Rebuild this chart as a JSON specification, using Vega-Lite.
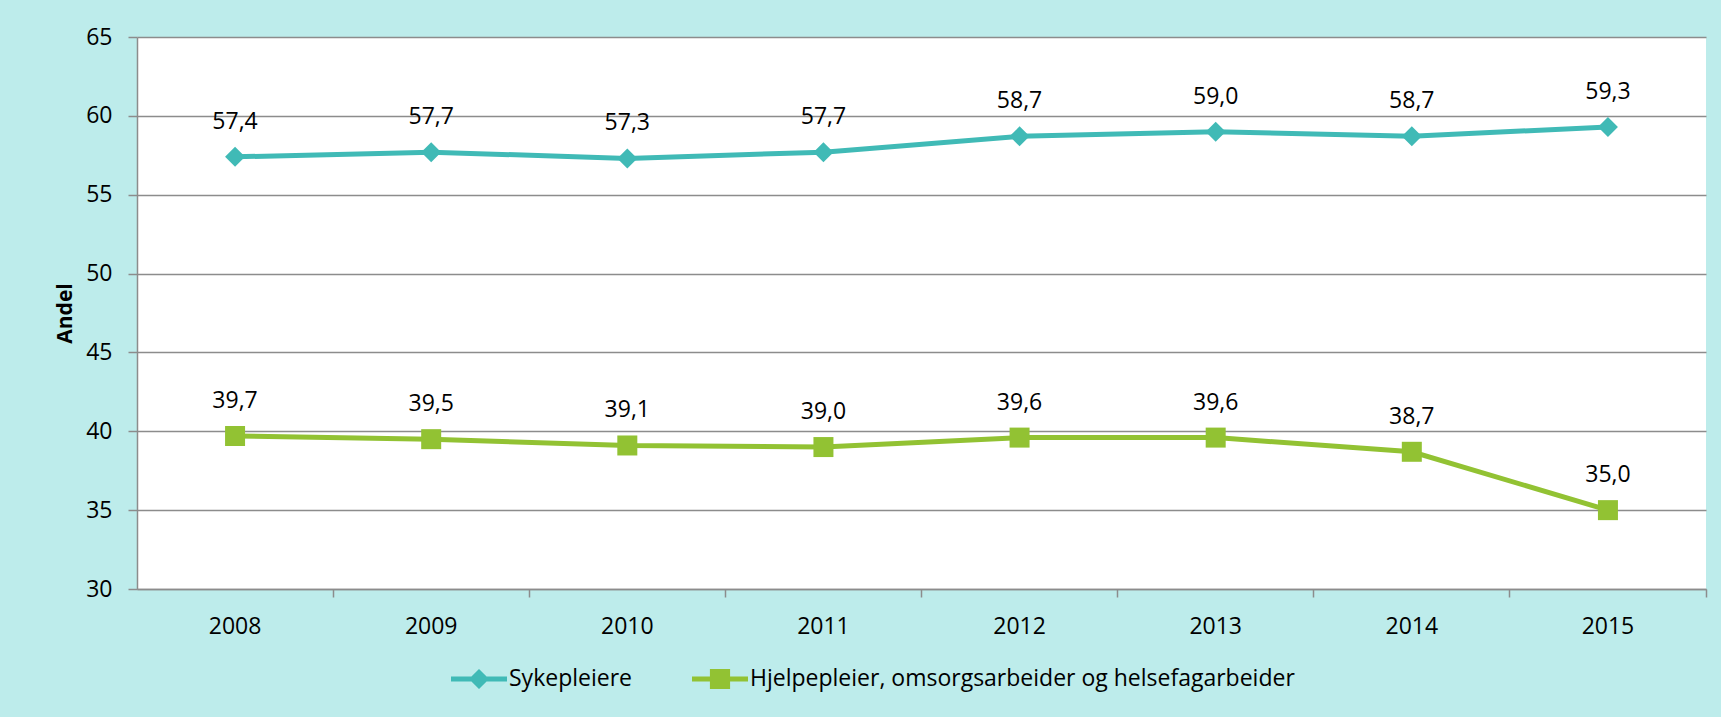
{
  "$schema": "https://vega.github.io/schema/vega-lite/v6.json",
  "width": 1569,
  "height": 552,
  "autosize": {"type": "none"},
  "padding": {"left": 137, "top": 37, "right": 15, "bottom": 128},
  "background": "#bdeceb",
  "config": {
    "view": {"fill": "white", "stroke": null},
    "font": "Open Sans",
    "locale": {"number": {"decimal": ",", "thousands": " ", "grouping": [3], "currency": ["", " kr"]}}
  },
  "data": {
    "values": [
      {"year": "2008", "series": "Sykepleiere", "value": 57.4},
      {"year": "2009", "series": "Sykepleiere", "value": 57.7},
      {"year": "2010", "series": "Sykepleiere", "value": 57.3},
      {"year": "2011", "series": "Sykepleiere", "value": 57.7},
      {"year": "2012", "series": "Sykepleiere", "value": 58.7},
      {"year": "2013", "series": "Sykepleiere", "value": 59.0},
      {"year": "2014", "series": "Sykepleiere", "value": 58.7},
      {"year": "2015", "series": "Sykepleiere", "value": 59.3},
      {"year": "2008", "series": "Hjelpepleier, omsorgsarbeider og helsefagarbeider", "value": 39.7},
      {"year": "2009", "series": "Hjelpepleier, omsorgsarbeider og helsefagarbeider", "value": 39.5},
      {"year": "2010", "series": "Hjelpepleier, omsorgsarbeider og helsefagarbeider", "value": 39.1},
      {"year": "2011", "series": "Hjelpepleier, omsorgsarbeider og helsefagarbeider", "value": 39.0},
      {"year": "2012", "series": "Hjelpepleier, omsorgsarbeider og helsefagarbeider", "value": 39.6},
      {"year": "2013", "series": "Hjelpepleier, omsorgsarbeider og helsefagarbeider", "value": 39.6},
      {"year": "2014", "series": "Hjelpepleier, omsorgsarbeider og helsefagarbeider", "value": 38.7},
      {"year": "2015", "series": "Hjelpepleier, omsorgsarbeider og helsefagarbeider", "value": 35.0}
    ]
  },
  "resolve": {"axis": {"x": "independent"}},
  "layer": [
    {
      "mark": {"type": "line", "strokeWidth": 5},
      "encoding": {
        "x": {
          "field": "year", "type": "ordinal", "bandPosition": 0.5,
          "scale": {"type": "band", "paddingInner": 0, "paddingOuter": 0},
          "axis": {
            "orient": "bottom", "title": null, "labelAngle": 0, "bandPosition": 0.5, "ticks": false, "tickSize": 0,
            "labelPadding": 26, "labelFontSize": 23, "labelColor": "black", "labelFont": "Open Sans",
            "domainColor": "#8c8c8c", "domainWidth": 1.5, "grid": false
          }
        },
        "y": {
          "field": "value", "type": "quantitative",
          "scale": {"domain": [30, 65], "nice": false, "zero": false},
          "axis": {
            "title": "Andel", "titleFontSize": 21, "titleFontWeight": "bold", "titleColor": "black", "titleFont": "Open Sans", "titlePadding": 10,
            "values": [30, 35, 40, 45, 50, 55, 60, 65],
            "labelFontSize": 23, "labelColor": "black", "labelFont": "Open Sans", "labelPadding": 16,
            "tickSize": 9, "tickColor": "#8c8c8c", "tickWidth": 1.5,
            "domainColor": "#8c8c8c", "domainWidth": 1.5,
            "grid": true, "gridColor": "#8c8c8c", "gridWidth": 1.5
          }
        },
        "color": {
          "field": "series", "type": "nominal",
          "scale": {"domain": ["Sykepleiere", "Hjelpepleier, omsorgsarbeider og helsefagarbeider"], "range": ["#40bab6", "#92c233"]},
          "legend": {
            "title": null, "orient": "none", "direction": "horizontal", "legendX": 314, "legendY": 614,
            "padding": 0, "symbolSize": 3136, "labelFontSize": 23, "labelColor": "black", "labelFont": "Open Sans",
            "labelOffset": 2, "labelLimit": 0, "columnPadding": 60, "symbolStrokeWidth": 0,
            "encode": {
              "symbols": {
                "update": {
                  "shape": {"signal": "datum.value === 'Sykepleiere' ? 'M-1,-0.09H1V0.09H-1Z M-0.36,0L0,-0.36L0.36,0L0,0.36Z' : 'M-1,-0.09H1V0.09H-1Z M-0.36,-0.36H0.36V0.36H-0.36Z'"},
                  "fill": {"signal": "datum.value === 'Sykepleiere' ? '#40bab6' : '#92c233'"},
                  "fillOpacity": {"value": 1},
                  "strokeWidth": {"value": 0}
                }
              }
            }
          }
        }
      }
    },
    {
      "transform": [{"filter": "datum.series === 'Sykepleiere'"}],
      "mark": {"type": "point", "filled": true, "opacity": 1, "size": 400, "shape": "diamond"},
      "encoding": {
        "x": {
          "field": "year", "type": "ordinal", "bandPosition": 0.5,
          "axis": {
            "orient": "bottom", "title": null, "labels": false, "ticks": true, "bandPosition": 1, "tickSize": 8,
            "tickColor": "#8c8c8c", "tickWidth": 1.5, "domain": false, "grid": false
          }
        },
        "y": {"field": "value", "type": "quantitative"},
        "color": {"field": "series", "type": "nominal"}
      }
    },
    {
      "transform": [{"filter": "datum.series !== 'Sykepleiere'"}],
      "mark": {"type": "point", "filled": true, "opacity": 1, "size": 400, "shape": "square"},
      "encoding": {
        "x": {"field": "year", "type": "ordinal", "bandPosition": 0.5, "axis": null},
        "y": {"field": "value", "type": "quantitative"},
        "color": {"field": "series", "type": "nominal"}
      }
    },
    {
      "mark": {"type": "text", "dy": -35, "baseline": "middle", "align": "center", "fontSize": 23, "color": "black", "font": "Open Sans"},
      "encoding": {
        "x": {"field": "year", "type": "ordinal", "bandPosition": 0.5, "axis": null},
        "y": {"field": "value", "type": "quantitative"},
        "text": {"field": "value", "type": "quantitative", "format": ".1f"}
      }
    }
  ]
}
